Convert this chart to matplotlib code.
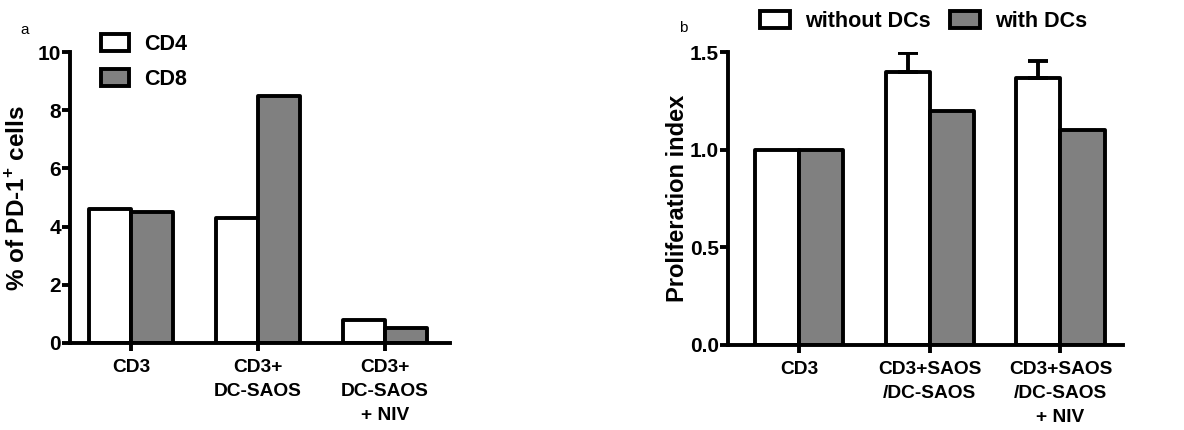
import numpy as np
import matplotlib
matplotlib.use("Agg")
import matplotlib.pyplot as plt

plt.rcParams['font.family'] = ['Liberation Sans', 'DejaVu Sans']
plt.rcParams['font.weight'] = 'bold'
plt.rcParams['mathtext.fontset'] = 'custom'
plt.rcParams['mathtext.bf'] = 'Liberation Sans:bold'
plt.rcParams['mathtext.rm'] = 'Liberation Sans:bold'

# panel a data
groups_a = ["CD3", "CD3+\nDC-SAOS", "CD3+\nDC-SAOS\n+ NIV"]
cd4 = [4.6, 4.3, 0.8]
cd8 = [4.5, 8.5, 0.5]

# panel b data
groups_b = ["CD3", "CD3+SAOS\n/DC-SAOS", "CD3+SAOS\n/DC-SAOS\n+ NIV"]
without_dcs = [1.0, 1.4, 1.365]
with_dcs = [1.0, 1.2, 1.1]
without_err = [0.0, 0.095, 0.088]

grey = "#808080"
lw = 2.8

fig = plt.figure(figsize=(11.84, 4.3), dpi=100)
ax1 = fig.add_axes([70/1184, 1-343/430, 380/1184, 291/430])
ax2 = fig.add_axes([727.7/1184, 1-345/430, 395/1184, 293/430])


def style(ax):
    for s in ["top", "right"]:
        ax.spines[s].set_visible(False)
    for s in ["left", "bottom"]:
        ax.spines[s].set_linewidth(lw)
    ax.tick_params(axis="both", width=lw, length=5.5)
    ax.tick_params(axis="y", labelsize=15, pad=1)
    ax.tick_params(axis="x", labelsize=13.8, pad=6)


w = 0.33
x = np.arange(3)
ax1.bar(x - w/2, cd4, w, color="white", edgecolor="black", linewidth=lw, label="CD4", joinstyle="round")
ax1.bar(x + w/2, cd8, w, color=grey, edgecolor="black", linewidth=lw, label="CD8", joinstyle="round")
ax1.set_xlim(-0.48, 2.51)
ax1.set_ylim(0, 10)
ax1.set_yticks([0, 2, 4, 6, 8, 10])
ax1.set_xticks(x)
ax1.set_xticklabels(groups_a, linespacing=1.55)
style(ax1)
ax1.legend(loc="upper left", bbox_to_anchor=(101/1184, 1-34/430), bbox_transform=fig.transFigure,
           frameon=False, fontsize=15.5, handlelength=1.3, handleheight=0.8,
           handletextpad=0.7, labelspacing=0.65, borderpad=0, borderaxespad=0)

w2 = 0.337
ax2.bar(x - w2/2, without_dcs, w2, color="white", edgecolor="black", linewidth=lw, label="without DCs", joinstyle="round")
ax2.bar(x + w2/2, with_dcs, w2, color=grey, edgecolor="black", linewidth=lw, label="with DCs", joinstyle="round")
idx = [i for i in range(3) if without_err[i] > 0]
ax2.errorbar(x[idx] - w2/2, [without_dcs[i] for i in idx],
             yerr=[[0]*len(idx), [without_err[i] for i in idx]],
             fmt="none", ecolor="black", elinewidth=lw, capsize=7.5, capthick=lw)
ax2.set_xlim(-0.545, 2.476)
ax2.set_ylim(0, 1.5)
ax2.set_yticks([0.0, 0.5, 1.0, 1.5])
ax2.set_yticklabels(["0.0", "0.5", "1.0", "1.5"])
ax2.set_xticks(x)
ax2.set_xticklabels(groups_b, linespacing=1.55)
style(ax2)
ax2.legend(loc="upper left", bbox_to_anchor=(760/1184, 1-11/430), bbox_transform=fig.transFigure,
           frameon=False, fontsize=15.5, ncol=2, handlelength=1.4, handleheight=0.8,
           handletextpad=0.7, columnspacing=0.9, borderpad=0, borderaxespad=0)

fig.text(18/1184, 1-198/430, r"% of PD-1$^{\mathbf{+}}$ cells", rotation=90,
         ha="center", va="center", fontsize=17.5, fontweight="bold")
fig.text(677/1184, 1-198/430, "Proliferation index", rotation=90,
         ha="center", va="center", fontsize=17, fontweight="bold")

fig.text(25/1184, 1-30/430, "a", fontsize=11, fontweight="normal", ha="center", va="center")
fig.text(683/1184, 1-28/430, "b", fontsize=11, fontweight="normal", ha="center", va="center")

fig.savefig("out.png", dpi=100)
